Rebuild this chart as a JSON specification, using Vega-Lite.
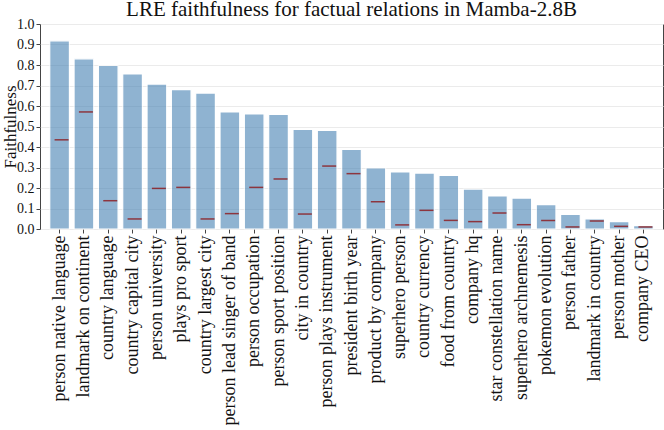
{
  "$schema": "https://vega.github.io/schema/vega-lite/v6.json",
  "autosize": "none",
  "width": 623,
  "height": 205,
  "padding": {"left": 40, "top": 24, "right": 1, "bottom": 201},
  "title": {
    "text": "LRE faithfulness for factual relations in Mamba-2.8B",
    "font": "Liberation Serif",
    "fontSize": 21,
    "fontWeight": "normal",
    "color": "#111",
    "anchor": "middle",
    "offset": -3
  },
  "config": {
    "view": {"stroke": "#444", "strokeWidth": 1},
    "axis": {
      "labelFont": "Liberation Serif",
      "titleFont": "Liberation Serif",
      "labelColor": "#111",
      "titleColor": "#111",
      "domainColor": "#444",
      "tickColor": "#444"
    }
  },
  "data": {
    "values": [
      {"relation": "person native language", "faithfulness": 0.918, "baseline": 0.435},
      {"relation": "landmark on continent", "faithfulness": 0.830, "baseline": 0.571},
      {"relation": "country language", "faithfulness": 0.798, "baseline": 0.138},
      {"relation": "country capital city", "faithfulness": 0.756, "baseline": 0.049},
      {"relation": "person university", "faithfulness": 0.707, "baseline": 0.198},
      {"relation": "plays pro sport", "faithfulness": 0.680, "baseline": 0.203},
      {"relation": "country largest city", "faithfulness": 0.663, "baseline": 0.049},
      {"relation": "person lead singer of band", "faithfulness": 0.571, "baseline": 0.075},
      {"relation": "person occupation", "faithfulness": 0.561, "baseline": 0.203},
      {"relation": "person sport position", "faithfulness": 0.559, "baseline": 0.244},
      {"relation": "city in country", "faithfulness": 0.486, "baseline": 0.073},
      {"relation": "person plays instrument", "faithfulness": 0.481, "baseline": 0.307},
      {"relation": "president birth year", "faithfulness": 0.388, "baseline": 0.270},
      {"relation": "product by company", "faithfulness": 0.298, "baseline": 0.133},
      {"relation": "superhero person", "faithfulness": 0.278, "baseline": 0.020},
      {"relation": "country currency", "faithfulness": 0.273, "baseline": 0.091},
      {"relation": "food from country", "faithfulness": 0.262, "baseline": 0.042},
      {"relation": "company hq", "faithfulness": 0.195, "baseline": 0.036},
      {"relation": "star constellation name", "faithfulness": 0.161, "baseline": 0.078},
      {"relation": "superhero archnemesis", "faithfulness": 0.151, "baseline": 0.021},
      {"relation": "pokemon evolution", "faithfulness": 0.119, "baseline": 0.042},
      {"relation": "person father", "faithfulness": 0.071, "baseline": 0.010},
      {"relation": "landmark in country", "faithfulness": 0.049, "baseline": 0.039},
      {"relation": "person mother", "faithfulness": 0.036, "baseline": 0.013},
      {"relation": "company CEO", "faithfulness": 0.016, "baseline": 0.010}
    ]
  },
  "encoding": {
    "x": {
      "field": "relation",
      "type": "nominal",
      "sort": null,
      "title": null,
      "scale": {"paddingInner": 0.19, "paddingOuter": 0.4},
      "axis": {
        "labelAngle": -90,
        "labelFontSize": 18,
        "labelPadding": 2,
        "labelLimit": 250,
        "tickSize": 4,
        "domain": false
      }
    }
  },
  "layer": [
    {
      "mark": {"type": "bar", "color": "steelblue", "opacity": 0.6, "stroke": "white", "strokeWidth": 1.2},
      "encoding": {
        "y": {
          "field": "faithfulness",
          "type": "quantitative",
          "scale": {"domain": [0, 1], "nice": false},
          "title": "Faithfulness",
          "axis": {
            "values": [0, 0.1, 0.2, 0.3, 0.4, 0.5, 0.6, 0.7, 0.8, 0.9, 1.0],
            "format": ".1f",
            "labelFontSize": 14,
            "labelPadding": 2,
            "labelOverlap": false,
            "titleFontSize": 17,
            "titleFontWeight": "normal",
            "titleX": -25,
            "titleBaseline": "alphabetic",
            "tickSize": 4,
            "grid": true,
            "gridColor": "#ebebeb",
            "domain": false
          }
        }
      }
    },
    {
      "mark": {"type": "tick", "color": "#8b0000", "size": 14, "thickness": 1.5, "xOffset": 2},
      "encoding": {
        "y": {"field": "baseline", "type": "quantitative", "axis": null}
      }
    }
  ],
  "resolve": {"axis": {"y": "independent"}}
}
